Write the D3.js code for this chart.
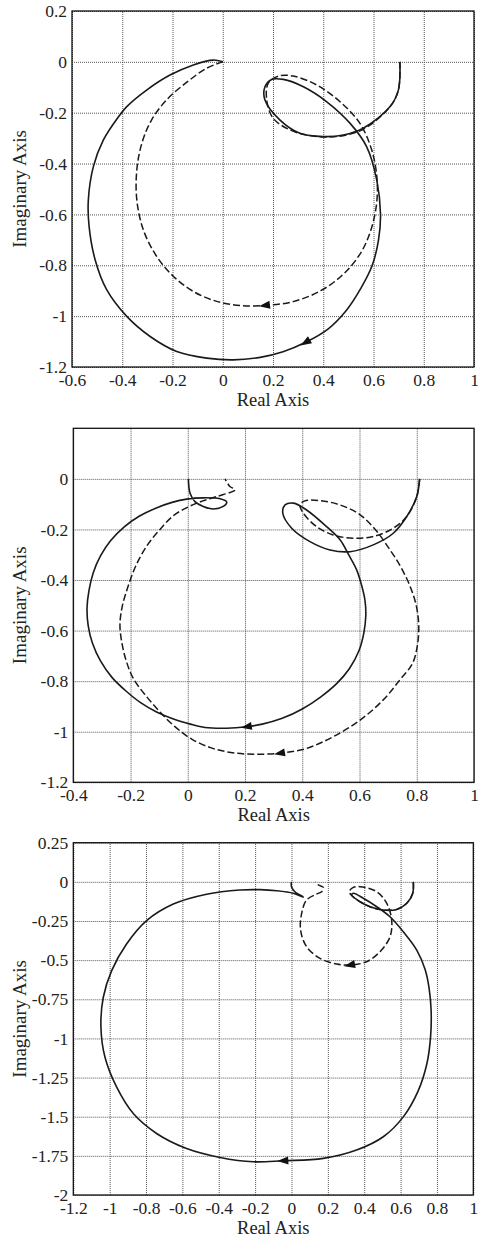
<!DOCTYPE html>
<html>
<head>
<meta charset="utf-8">
<script src="https://cdn.jsdelivr.net/npm/d3@7"></script>
<style>
body { margin: 0; background: #fff; }
svg { display: block; }
</style>
</head>
<body>
<svg id="chart" width="478" height="1237"></svg>
<script>
// ---- panel 1 (top) ----
const p1XTicks = [-0.6, -0.4, -0.2, 0, 0.2, 0.4, 0.6, 0.8, 1];
const p1YTicks = [0.2, 0, -0.2, -0.4, -0.6, -0.8, -1, -1.2];
const p1Solid = [
  [0.705, 0], [0.699, -0.111], [0.666, -0.176], [0.559, -0.261], [0.48, -0.288], [0.40, -0.294],
  [0.307, -0.281], [0.228, -0.229], [0.168, -0.15], [0.168, -0.098], [0.195, -0.069], [0.241, -0.069],
  [0.321, -0.098], [0.414, -0.157], [0.507, -0.242], [0.573, -0.334], [0.613, -0.465], [0.628, -0.60],
  [0.62, -0.70], [0.595, -0.80], [0.55, -0.89], [0.49, -0.98], [0.42, -1.05], [0.33, -1.103],
  [0.24, -1.14], [0.149, -1.162], [0.042, -1.172], [-0.064, -1.165], [-0.183, -1.139], [-0.289, -1.080],
  [-0.382, -1.001], [-0.462, -0.896], [-0.508, -0.778], [-0.532, -0.647], [-0.535, -0.543], [-0.515, -0.412],
  [-0.475, -0.307], [-0.415, -0.216], [-0.382, -0.176], [-0.303, -0.111], [-0.21, -0.052], [-0.117, -0.012],
  [-0.038, 0.007], [0, 0]
];
const p1Dashed = [
  [0.705, 0], [0.699, -0.111], [0.666, -0.176], [0.559, -0.265], [0.453, -0.294], [0.347, -0.290],
  [0.268, -0.268], [0.201, -0.222], [0.175, -0.150], [0.181, -0.084], [0.221, -0.056], [0.281, -0.056],
  [0.374, -0.091], [0.467, -0.157], [0.546, -0.242], [0.593, -0.347], [0.614, -0.46], [0.612, -0.56],
  [0.59, -0.66], [0.55, -0.75], [0.48, -0.835], [0.39, -0.90], [0.28, -0.943], [0.168, -0.958],
  [0.07, -0.958], [-0.024, -0.942], [-0.117, -0.903], [-0.196, -0.844], [-0.263, -0.765], [-0.316, -0.661],
  [-0.342, -0.543], [-0.342, -0.425], [-0.322, -0.320], [-0.283, -0.228], [-0.223, -0.149], [-0.143, -0.080],
  [-0.064, -0.025], [0, 0]
];
const p1Arrows = [["solid", 0.33, -1.103], ["dashed", 0.168, -0.958]];

// ---- panel 2 (middle) ----
const p2XTicks = [-0.4, -0.2, 0, 0.2, 0.4, 0.6, 0.8, 1];
const p2YTicks = [0, -0.2, -0.4, -0.6, -0.8, -1, -1.2];
const p2Solid = [
  [0.81, 0], [0.80, -0.07], [0.765, -0.149], [0.718, -0.215], [0.648, -0.261], [0.567, -0.288],
  [0.497, -0.281], [0.427, -0.248], [0.363, -0.195], [0.332, -0.136], [0.34, -0.103], [0.369, -0.096],
  [0.415, -0.123], [0.485, -0.189], [0.532, -0.241], [0.562, -0.30], [0.59, -0.36], [0.607, -0.42],
  [0.619, -0.48], [0.622, -0.54], [0.615, -0.61], [0.598, -0.68], [0.565, -0.75], [0.52, -0.81],
  [0.465, -0.862], [0.40, -0.91], [0.33, -0.947], [0.26, -0.97], [0.206, -0.98], [0.135, -0.986],
  [0.06, -0.983], [0.009, -0.97], [-0.05, -0.95], [-0.109, -0.922], [-0.165, -0.885], [-0.215, -0.84],
  [-0.265, -0.785], [-0.305, -0.72], [-0.333, -0.65], [-0.348, -0.58], [-0.352, -0.51], [-0.345, -0.44],
  [-0.33, -0.37], [-0.305, -0.305], [-0.27, -0.245], [-0.222, -0.19], [-0.17, -0.148], [-0.11, -0.115],
  [-0.055, -0.093], [-0.004, -0.080], [0.054, -0.075], [0.113, -0.079], [0.136, -0.092], [0.124, -0.109],
  [0.089, -0.119], [0.054, -0.109], [0.025, -0.090], [0.008, -0.057], [0.002, 0]
];
const p2Dashed = [
  [0.81, 0], [0.80, -0.07], [0.765, -0.149], [0.718, -0.195], [0.648, -0.228], [0.578, -0.235],
  [0.508, -0.222], [0.45, -0.189], [0.404, -0.136], [0.392, -0.103], [0.409, -0.087], [0.462, -0.086],
  [0.532, -0.103], [0.60, -0.14], [0.655, -0.2], [0.70, -0.27], [0.74, -0.34], [0.775, -0.42],
  [0.798, -0.50], [0.807, -0.58], [0.802, -0.66], [0.785, -0.73], [0.741, -0.795], [0.683, -0.874],
  [0.602, -0.954], [0.509, -1.019], [0.415, -1.066], [0.322, -1.085], [0.229, -1.089], [0.15, -1.082],
  [0.08, -1.063], [0.015, -1.03], [-0.045, -0.98], [-0.097, -0.922], [-0.144, -0.861], [-0.19, -0.79],
  [-0.215, -0.72], [-0.23, -0.65], [-0.237, -0.58], [-0.23, -0.51], [-0.21, -0.43], [-0.18, -0.34],
  [-0.14, -0.26], [-0.097, -0.2], [-0.05, -0.145], [0, -0.112], [0.05, -0.088], [0.101, -0.07],
  [0.165, -0.043], [0.147, -0.03], [0.13, 0]
];
const p2Arrows = [["solid", 0.206, -0.98], ["dashed", 0.322, -1.085]];

// ---- panel 3 (bottom) ----
const p3XTicks = [-1.2, -1, -0.8, -0.6, -0.4, -0.2, 0, 0.2, 0.4, 0.6, 0.8, 1];
const p3YTicks = [0.25, 0, -0.25, -0.5, -0.75, -1, -1.25, -1.5, -1.75, -2];
const p3Solid = [
  [0.67, 0], [0.667, -0.073], [0.634, -0.137], [0.579, -0.176], [0.505, -0.18], [0.432, -0.159],
  [0.377, -0.127], [0.331, -0.084], [0.34, -0.073], [0.395, -0.105], [0.469, -0.159], [0.542, -0.223],
  [0.615, -0.319], [0.689, -0.436], [0.735, -0.56], [0.757, -0.68], [0.768, -0.82], [0.765, -0.99],
  [0.745, -1.16], [0.695, -1.34], [0.615, -1.501], [0.505, -1.628], [0.358, -1.713], [0.175, -1.766],
  [-0.045, -1.781], [-0.21, -1.788], [-0.393, -1.760], [-0.577, -1.703], [-0.742, -1.607], [-0.87, -1.480],
  [-0.962, -1.310], [-1.026, -1.119], [-1.048, -0.928], [-1.035, -0.737], [-0.989, -0.567], [-0.907, -0.397],
  [-0.797, -0.248], [-0.65, -0.142], [-0.467, -0.079], [-0.284, -0.052], [-0.173, -0.05], [-0.081, -0.057],
  [0.01, -0.073], [0.065, -0.097], [0.019, -0.063], [0, -0.031], [0, 0]
];
const p3Dashed = [
  [0.67, 0], [0.667, -0.073], [0.634, -0.137], [0.579, -0.176], [0.505, -0.18], [0.432, -0.159],
  [0.349, -0.105], [0.318, -0.063], [0.34, -0.035], [0.377, -0.031], [0.469, -0.063], [0.524, -0.137],
  [0.551, -0.244], [0.542, -0.351], [0.487, -0.446], [0.413, -0.51], [0.322, -0.531], [0.249, -0.525],
  [0.157, -0.489], [0.083, -0.414], [0.05, -0.308], [0.056, -0.201], [0.083, -0.116], [0.138, -0.078],
  [0.166, -0.063], [0.175, -0.035], [0.148, -0.02], [0.13, 0]
];
const p3Arrows = [["solid", -0.045, -1.781], ["dashed", 0.322, -0.531]];

const xTitle = "Real Axis";
const yTitle = "Imaginary Axis";

const panels = [
  { solid: p1Solid, dashed: p1Dashed, arrows: p1Arrows, xTicks: p1XTicks, yTicks: p1YTicks,
    xDomain: [-0.6, 1], yDomain: [-1.2, 0.2], left: 72, right: 474, top: 11, bottom: 367 },
  { solid: p2Solid, dashed: p2Dashed, arrows: p2Arrows, xTicks: p2XTicks, yTicks: p2YTicks,
    xDomain: [-0.4, 1], yDomain: [-1.2, 0.2], left: 73.3, right: 474, top: 428.3, bottom: 782.3 },
  { solid: p3Solid, dashed: p3Dashed, arrows: p3Arrows, xTicks: p3XTicks, yTicks: p3YTicks,
    xDomain: [-1.2, 1], yDomain: [-2, 0.25], left: 73.3, right: 473.3, top: 842.7, bottom: 1195 }
];

const FONT = '"Liberation Serif", "Times New Roman", serif';
const svg = d3.select("#chart");

panels.forEach(p => drawPanel(p));

function drawPanel(p) {
  let x = d3.scaleLinear().domain(p.xDomain).range([p.left, p.right]);
  let y = d3.scaleLinear().domain(p.yDomain).range([p.bottom, p.top]);
  let w = p.right - p.left;
  let h = p.bottom - p.top;
  let g = svg.append("g");

  // dotted grid
  g.append("g")
    .attr("transform", "translate(0," + p.bottom + ")")
    .call(d3.axisBottom(x).tickValues(p.xTicks).tickSize(-h).tickFormat(""))
    .call(a => a.select(".domain").remove())
    .selectAll("line")
    .attr("stroke", "#555").attr("stroke-width", 1).attr("stroke-dasharray", "1,1");
  g.append("g")
    .attr("transform", "translate(" + p.left + ",0)")
    .call(d3.axisLeft(y).tickValues(p.yTicks).tickSize(-w).tickFormat(""))
    .call(a => a.select(".domain").remove())
    .selectAll("line")
    .attr("stroke", "#555").attr("stroke-width", 1).attr("stroke-dasharray", "1,1");

  // tick labels
  let xa = g.append("g")
    .attr("transform", "translate(0," + p.bottom + ")")
    .call(d3.axisBottom(x).tickValues(p.xTicks).tickSize(0).tickPadding(6.5).tickFormat(d => String(d)));
  let ya = g.append("g")
    .attr("transform", "translate(" + p.left + ",0)")
    .call(d3.axisLeft(y).tickValues(p.yTicks).tickSize(0).tickPadding(5).tickFormat(d => String(d)));
  [xa, ya].forEach(a => {
    a.select(".domain").remove();
    a.attr("font-family", null).attr("font-size", null);
    a.selectAll("text")
      .style("font-family", FONT)
      .style("font-size", "17.5px")
      .attr("fill", "#222");
  });

  // curves
  let line = d3.line()
    .x(d => x(d[0]))
    .y(d => y(d[1]))
    .curve(d3.curveCatmullRom.alpha(0.5));

  g.append("path")
    .attr("d", line(p.dashed))
    .attr("fill", "none")
    .attr("stroke", "#1a1a1a")
    .attr("stroke-width", 1.5)
    .attr("stroke-dasharray", "7,3");
  g.append("path")
    .attr("d", line(p.solid))
    .attr("fill", "none")
    .attr("stroke", "#1a1a1a")
    .attr("stroke-width", 1.6);

  // direction arrows, oriented along the nearest curve segment
  p.arrows.forEach(a => {
    let series = a[0] === "solid" ? p.solid : p.dashed;
    let px = x(a[1]), py = y(a[2]);
    let best = 0, bestD = Infinity;
    for (let i = 0; i < series.length - 1; i++) {
      let ax = x(series[i][0]), ay = y(series[i][1]);
      let bx = x(series[i + 1][0]), by = y(series[i + 1][1]);
      let dx = bx - ax, dy = by - ay;
      let t = Math.max(0, Math.min(1, ((px - ax) * dx + (py - ay) * dy) / (dx * dx + dy * dy)));
      let dd = Math.hypot(ax + t * dx - px, ay + t * dy - py);
      if (dd < bestD) { bestD = dd; best = i; }
    }
    let ang = Math.atan2(y(series[best + 1][1]) - y(series[best][1]),
                         x(series[best + 1][0]) - x(series[best][0])) * 180 / Math.PI;
    g.append("path")
      .attr("d", "M6,0 L-5,-4 L-5,4 Z")
      .attr("fill", "#111")
      .attr("transform", "translate(" + px + "," + py + ") rotate(" + ang + ")");
  });

  // frame
  g.append("rect")
    .attr("x", p.left).attr("y", p.top)
    .attr("width", w).attr("height", h)
    .attr("fill", "none")
    .attr("stroke", "#111")
    .attr("stroke-width", 1.3);

  // axis titles
  g.append("text")
    .attr("x", (p.left + p.right) / 2)
    .attr("y", p.bottom + 39)
    .attr("text-anchor", "middle")
    .style("font-family", FONT)
    .style("font-size", "18.5px")
    .attr("fill", "#222")
    .text(xTitle);
  g.append("text")
    .attr("transform", "translate(26," + (p.top + p.bottom) / 2 + ") rotate(-90)")
    .attr("text-anchor", "middle")
    .style("font-family", FONT)
    .style("font-size", "19px")
    .attr("fill", "#222")
    .text(yTitle);
}
</script>
</body>
</html>
